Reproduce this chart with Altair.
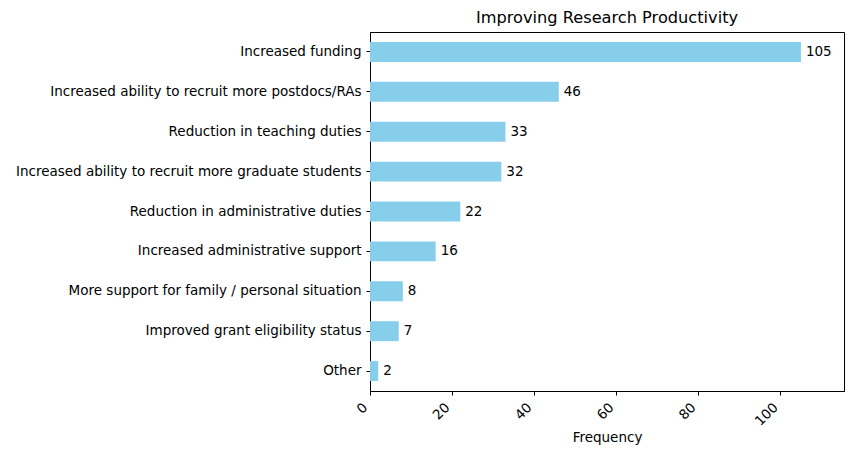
import altair as alt
import pandas as pd

categories = [
    "Increased funding",
    "Increased ability to recruit more postdocs/RAs",
    "Reduction in teaching duties",
    "Increased ability to recruit more graduate students",
    "Reduction in administrative duties",
    "Increased administrative support",
    "More support for family / personal situation",
    "Improved grant eligibility status",
    "Other",
]
counts = [105, 46, 33, 32, 22, 16, 8, 7, 2]

df = pd.DataFrame({"category": categories, "count": counts})

FONT = "DejaVu Sans"
FS = 13.5

y_enc = alt.Y(
    "category:N",
    sort=categories,
    title=None,
    scale=alt.Scale(paddingInner=0.5, paddingOuter=0.25),
    axis=alt.Axis(
        labelFont=FONT, labelFontSize=FS, labelColor="#000000",
        tickColor="#000000", tickSize=4, labelPadding=5,
        domainColor="#000000", labelLimit=600,
    ),
)
x_enc = alt.X(
    "count:Q",
    title="Frequency",
    scale=alt.Scale(domain=[0, 115.5], nice=False, zero=True),
    axis=alt.Axis(
        values=[0, 20, 40, 60, 80, 100], format="d", grid=False,
        labelFont=FONT, labelFontSize=FS, labelColor="#000000",
        labelAngle=-45, labelAlign="right", labelBaseline="bottom",
        labelPadding=15,
        tickColor="#000000", tickSize=4, domainColor="#000000",
        titleFont=FONT, titleFontSize=FS, titleFontWeight="normal",
        titleColor="#000000", titlePadding=3,
    ),
)

bars = alt.Chart(df).mark_bar(color="#87CEEB").encode(x=x_enc, y=y_enc)
labels = alt.Chart(df).mark_text(
    align="left", baseline="middle", dx=5, font=FONT, fontSize=FS, color="#000000"
).encode(
    x=alt.X("count:Q"),
    y=alt.Y("category:N", sort=categories),
    text=alt.Text("count:Q"),
)

chart = (
    alt.layer(bars, labels)
    .properties(
        width=474,
        height=359,
        title=alt.TitleParams(
            "Improving Research Productivity",
            font=FONT, fontSize=16.2, fontWeight="normal", color="#000000",
            offset=6,
        ),
        padding={"left": 362, "top": 24, "right": 1, "bottom": 55},
        autosize=alt.AutoSizeParams(type="none"),
    )
    .configure_view(stroke="#000000", strokeWidth=1)
    .configure_axis(grid=False)
)

chart.save("out.html", embed_options={"renderer": "svg", "actions": False})
